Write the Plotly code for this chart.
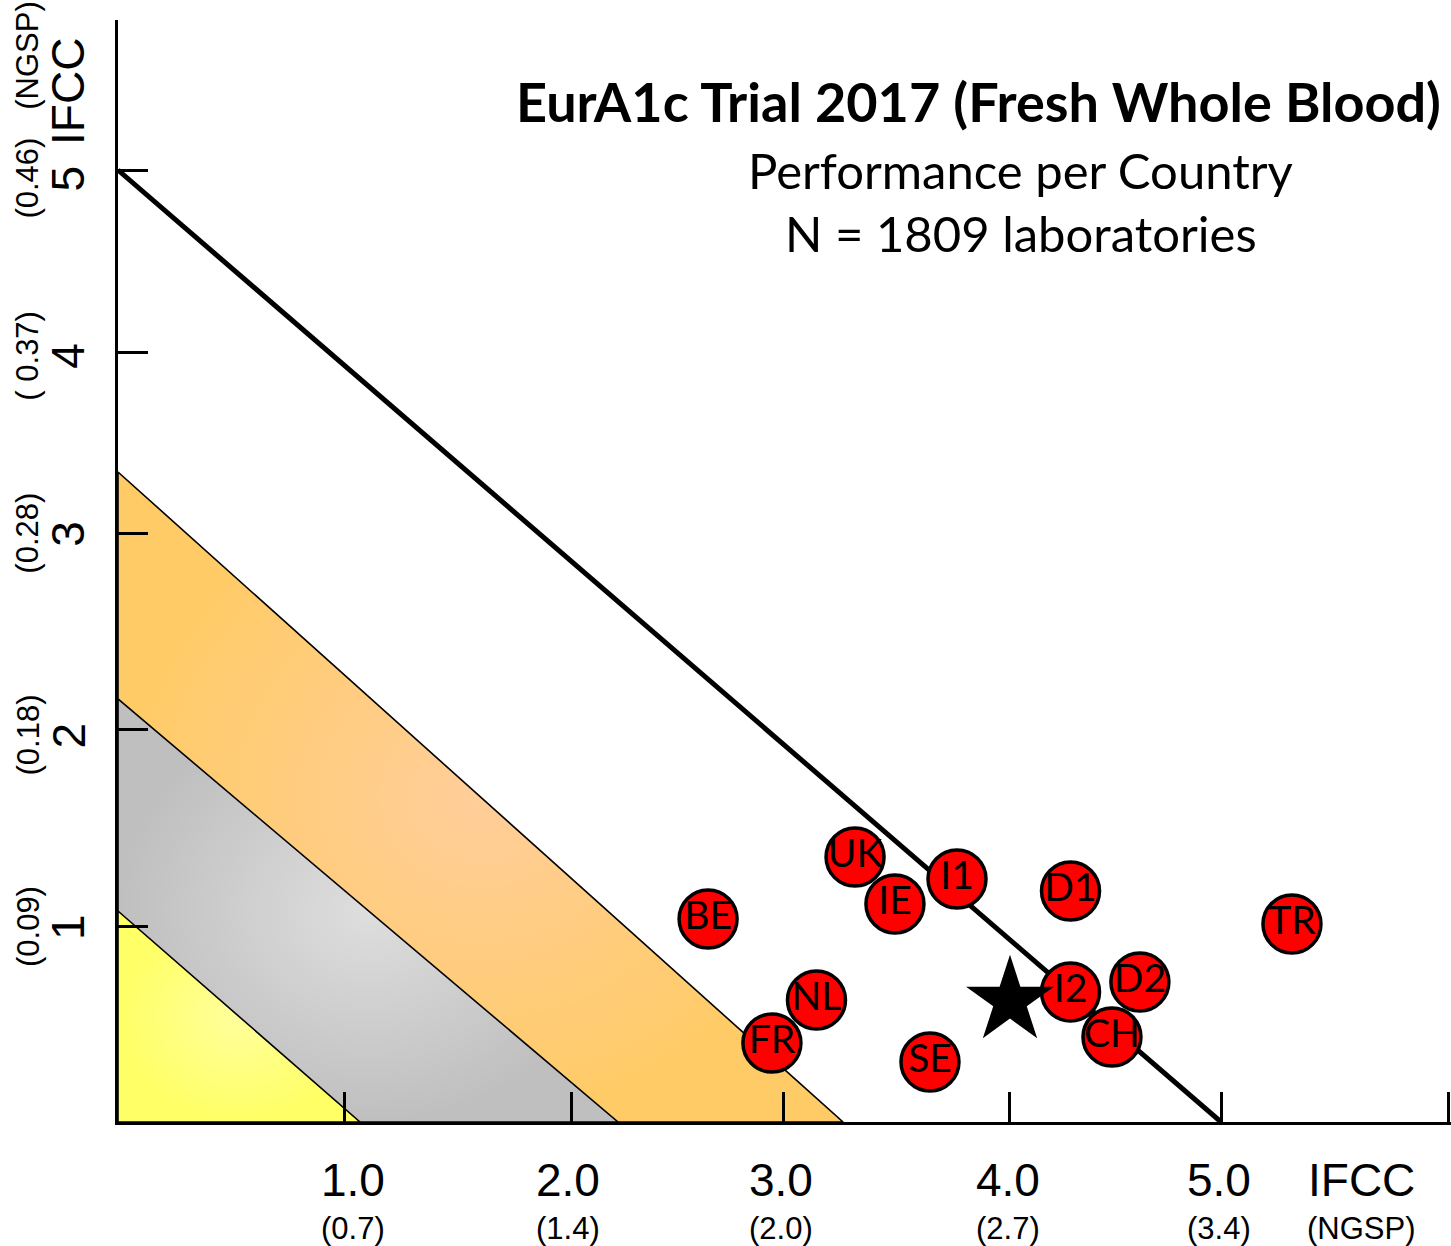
import plotly.graph_objects as go

# ---------------- data ----------------
countries = ["TR", "D1", "BE", "UK", "IE", "I1", "NL", "FR", "SE", "I2", "CH", "D2"]
bias_x = [5.296, 4.297, 2.662, 3.325, 3.505, 3.785, 3.151, 2.950, 3.663, 4.297, 4.484, 4.610]
cv_y = [1.040, 1.213, 1.066, 1.392, 1.145, 1.276, 0.641, 0.415, 0.315, 0.683, 0.446, 0.735]

overall_x = [4.024]
overall_y = [0.636]

zone_names = ["orange", "gray", "yellow"]
zone_x_intercepts = [3.271, 2.256, 1.092]
zone_y_intercepts = [3.414, 2.222, 1.108]

limit_x_intercept = 4.976
limit_y_intercept = 5.0

x_tick_vals = [1.024, 2.044, 3.0, 4.024, 4.976, 6.0]
x_label_vals = [1.062, 2.030, 2.990, 4.015, 4.967, 5.610]
x_labels = ["1.0", "2.0", "3.0", "4.0", "5.0", "IFCC"]
x_sublabels = ["(0.7)", "(1.4)", "(2.0)", "(2.7)", "(3.4)", "(NGSP)"]

y_tick_vals = [1.029, 2.059, 3.093, 4.044, 5.0]
y_label_vals = [1.024, 2.030, 3.090, 4.025, 4.955]
y_labels = ["1", "2", "3", "4", "5"]
y_sublabels = ["(0.09)", "(0.18)", "(0.28)", "( 0.37)", "(0.46)"]
y_title_val = 5.410
y_subtitle_val = 5.600

title = "EurA1c Trial 2017 (Fresh Whole Blood)"
subtitle1 = "Performance per Country"
subtitle2 = "N = 1809 laboratories"

# ---------------- styles ----------------
zone_styles = {
    "orange": ("#FFCE9A", "#FFCB66"),
    "gray": ("#DEDEDE", "#BFBFBF"),
    "yellow": ("#FFFF9C", "#FFFF66"),
}
W, H = 1451, 1246
ML, MR, MT, MB = 118, 0, 20, 124
X_RANGE = [0, 6.0135]
Y_RANGE = [0, 5.788]
ARIAL = "Liberation Sans, Arial, sans-serif"
CAL = "Lato, Carlito, Calibri, sans-serif"

fig = go.Figure()

# zones (full triangles layered, largest first)
for name, xi, yi in zip(zone_names, zone_x_intercepts, zone_y_intercepts):
    c_center, c_edge = zone_styles[name]
    fig.add_trace(go.Scatter(
        x=[0, xi, 0, 0], y=[0, 0, yi, 0],
        mode="lines", fill="toself",
        fillgradient=dict(type="radial", colorscale=[[0, c_center], [1, c_edge]]),
        line=dict(color="black", width=1.6),
        hoverinfo="skip", showlegend=False,
    ))

# limit line
fig.add_trace(go.Scatter(
    x=[0, limit_x_intercept], y=[limit_y_intercept, 0],
    mode="lines", line=dict(color="black", width=5),
    hoverinfo="skip", showlegend=False,
))

# countries
fig.add_trace(go.Scatter(
    x=bias_x, y=cv_y, mode="markers+text", text=countries,
    textposition="middle center",
    textfont=dict(family=CAL, size=39, color="black"),
    marker=dict(size=58, color="#FF0000", line=dict(color="black", width=3.5)),
    showlegend=False, cliponaxis=False,
))

# overall star
fig.add_trace(go.Scatter(
    x=overall_x, y=overall_y, mode="markers",
    marker=dict(symbol="star", size=66, color="black", line=dict(width=0)),
    showlegend=False, cliponaxis=False,
))

def py2paper(py):
    return (H - MB - py) / (H - MB - MT)

def px2paper(px):
    return (px - ML) / (W - ML - MR)

ann = []
for xv, t, s in zip(x_label_vals, x_labels, x_sublabels):
    ann.append(dict(x=xv, y=py2paper(1180), xref="x", yref="paper", text=t,
                    showarrow=False, xanchor="center", yanchor="middle",
                    font=dict(family=ARIAL, size=46, color="black")))
    ann.append(dict(x=xv, y=py2paper(1228), xref="x", yref="paper", text=s,
                    showarrow=False, xanchor="center", yanchor="middle",
                    font=dict(family=ARIAL, size=31, color="black")))
for yv, t, s in zip(y_label_vals, y_labels, y_sublabels):
    ann.append(dict(x=px2paper(68), y=yv, xref="paper", yref="y", text=t,
                    showarrow=False, xanchor="center", yanchor="middle", textangle=-90,
                    font=dict(family=ARIAL, size=46, color="black")))
    ann.append(dict(x=px2paper(28), y=yv, xref="paper", yref="y", text=s,
                    showarrow=False, xanchor="center", yanchor="middle", textangle=-90,
                    font=dict(family=ARIAL, size=31, color="black")))
ann.append(dict(x=px2paper(68), y=y_title_val, xref="paper", yref="y", text="IFCC",
                showarrow=False, xanchor="center", yanchor="middle", textangle=-90,
                font=dict(family=ARIAL, size=46, color="black")))
ann.append(dict(x=px2paper(28), y=y_subtitle_val, xref="paper", yref="y", text="(NGSP)",
                showarrow=False, xanchor="center", yanchor="middle", textangle=-90,
                font=dict(family=ARIAL, size=31, color="black")))

ann.append(dict(x=px2paper(514), y=py2paper(101), xref="paper", yref="paper",
                text="<b>" + title + "</b>", showarrow=False,
                xanchor="left", yanchor="middle",
                font=dict(family=CAL, size=54, color="black")))
ann.append(dict(x=px2paper(1021), y=py2paper(170), xref="paper", yref="paper",
                text=subtitle1, showarrow=False, xanchor="center", yanchor="middle",
                font=dict(family=CAL, size=49, color="black")))
ann.append(dict(x=px2paper(1021), y=py2paper(233), xref="paper", yref="paper",
                text=subtitle2, showarrow=False, xanchor="center", yanchor="middle",
                font=dict(family=CAL, size=49, color="black")))

axis_common = dict(showgrid=False, zeroline=False, showline=True, linewidth=3,
                   linecolor="black", ticks="inside", ticklen=30, tickwidth=3,
                   tickcolor="black", showticklabels=False, fixedrange=True)
fig.update_layout(
    width=W, height=H,
    margin=dict(l=ML, r=MR, t=MT, b=MB, pad=0),
    paper_bgcolor="white", plot_bgcolor="white",
    showlegend=False,
    font=dict(family=ARIAL, color="black"),
    xaxis=dict(range=X_RANGE, tickvals=x_tick_vals, **axis_common),
    yaxis=dict(range=Y_RANGE, tickvals=y_tick_vals, **axis_common),
    annotations=ann,
)

fig.write_html("out.html", config={"displayModeBar": False},
               post_script="document.body.style.margin='0';")
